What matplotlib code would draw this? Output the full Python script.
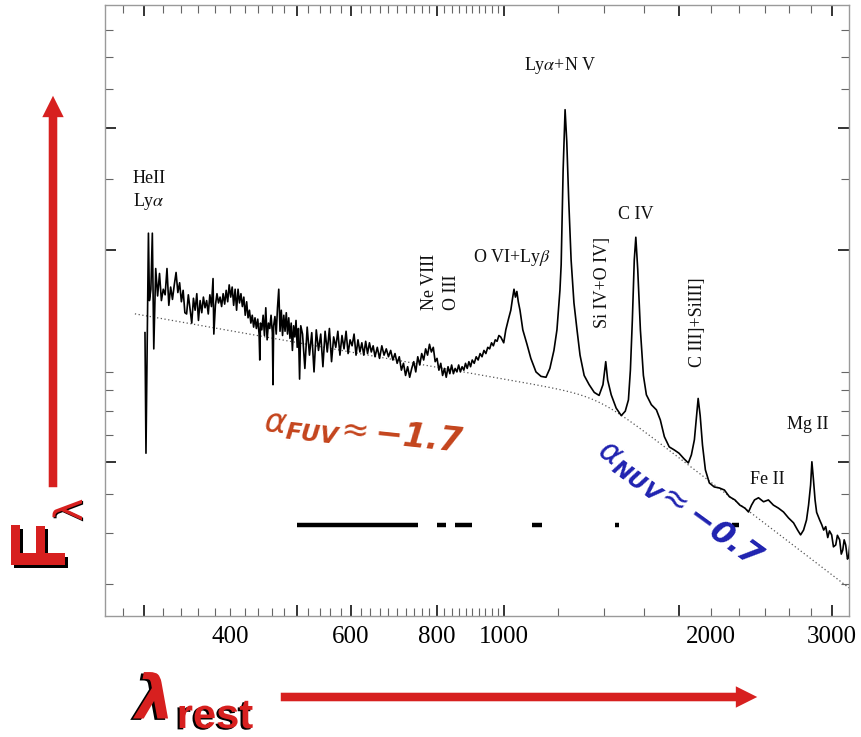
import numpy as np
import matplotlib
matplotlib.use("Agg")
import matplotlib.pyplot as plt
import matplotlib.patheffects as pe
from matplotlib.patches import FancyArrowPatch
from matplotlib.ticker import FixedLocator, FuncFormatter

# ---- composite quasar spectrum: rest wavelength [A] and F_lambda [arb. units] ----
wave_euv = [301, 302, 303.5, 304.5, 305.5, 307, 308.5, 310, 312, 314, 316, 318, 320,
            322, 324, 326, 328, 330, 332, 334, 336, 338, 340, 342, 344, 346, 348, 350,
            352, 354, 356, 358, 360, 362, 364, 366, 368, 370, 372, 374, 376, 378, 379,
            381, 383, 385, 387, 389, 391, 393, 395, 397, 399, 401]
flux_euv = [12.5, 6.3, 13.0, 22.0, 15.0, 16.0, 22.0, 11.4, 18.0, 15.4, 17.5, 15.0, 16.0,
            15.5, 18.0, 14.6, 16.2, 15.1, 16.4, 17.6, 15.7, 16.6, 14.9, 15.9, 14.0, 13.9, 15.5, 14.3,
            13.2, 15.2, 14.2, 15.6, 13.4, 15.0, 14.0, 15.3, 14.4, 15.0, 13.9, 15.5, 14.5, 17.0, 12.4,
            14.6, 15.6, 14.8, 15.3, 14.5, 15.6, 14.7, 15.9, 14.9, 16.4, 15.3]

wave_fuv1 = [403, 405, 407, 409, 411, 413, 415, 417, 419, 421, 423, 425, 427, 429, 431,
             433, 435, 437, 439, 441, 442, 443, 445, 447, 449, 451, 453, 455, 457, 459,
             461, 462, 463, 465, 467, 469, 471, 473, 475, 477, 479, 481, 483, 485, 487,
             489, 491, 493, 495, 497, 499, 501, 503, 505, 507]
flux_fuv1 = [16.2, 14.6, 16.0, 14.2, 16.0, 14.8, 15.6, 14.5, 15.3, 13.8, 14.9, 13.6, 14.2, 13.2, 13.8,
             12.9, 13.6, 12.8, 13.5, 12.4, 10.7, 13.2, 12.7, 13.8, 12.3, 14.4, 12.0, 13.2, 12.8, 13.8,
             12.5, 9.3, 13.0, 13.7, 12.4, 14.4, 16.0, 12.6, 14.2, 12.3, 13.8, 12.6, 14.0, 12.4, 13.6,
             12.1, 13.2, 11.3, 13.0, 12.2, 13.4, 11.5, 12.8, 9.6, 13.0]

wave_fuv2 = [510, 514, 518, 522, 526, 530, 534, 538, 542, 546, 550, 554, 558, 562, 566,
             570, 574, 578, 582, 586, 590, 594, 598, 602, 606, 610, 614, 618, 622, 626,
             630, 634, 638, 642, 646, 650, 655, 660, 665, 670, 675, 680, 685, 690, 695,
             700, 705, 710, 715, 720, 725, 730, 735, 740, 745, 750, 755, 760, 765, 770,
             775, 780, 785, 790, 795]
flux_fuv2 = [12.4, 10.2, 12.9, 11.0, 12.5, 10.0, 12.7, 11.3, 12.4, 10.3, 12.6, 11.2, 12.8, 10.6, 12.2,
             11.5, 12.6, 11.0, 12.3, 11.4, 12.6, 11.1, 12.0, 11.6, 12.4, 11.0, 12.0, 11.2, 11.8, 11.0,
             11.9, 11.1, 11.8, 11.2, 11.6, 10.9, 11.5, 10.8, 11.6, 11.0, 11.4, 10.9, 11.3, 10.7, 11.1,
             10.5, 10.9, 10.1, 10.5, 9.8, 10.3, 9.7, 10.2, 10.6, 10.0, 10.9, 10.4, 11.1, 10.7, 11.4,
             11.0, 11.7, 11.2, 11.5, 10.6]

wave_fuv3 = [800, 805, 810, 815, 820, 825, 830, 835, 840, 845, 850, 855, 860, 865, 870,
             875, 880, 885, 890, 895, 900, 906, 912, 918, 924, 930, 936, 942, 948, 954,
             960, 966, 972, 978, 984, 990]
flux_fuv3 = [10.8, 10.1, 10.5, 9.8, 10.2, 9.7, 10.3, 9.9, 10.4, 9.9, 10.2, 10.0, 10.4, 10.0, 10.3,
             10.1, 10.5, 10.2, 10.6, 10.3, 10.7, 10.5, 10.9, 10.7, 11.1, 10.9, 11.3, 11.1, 11.5, 11.4,
             11.8, 11.6, 12.0, 11.9, 12.3, 12.2]

wave_lines = [1000, 1007, 1016, 1024, 1030, 1035, 1040, 1045, 1050, 1056, 1066, 1081, 1095,
              1114, 1133, 1152, 1167, 1183, 1195, 1207, 1212, 1220, 1228, 1235, 1243, 1253,
              1265, 1278, 1291, 1309, 1331, 1354, 1376, 1394, 1407, 1416, 1433, 1457, 1482,
              1502, 1518, 1528, 1538, 1548, 1556, 1566, 1580, 1596, 1612, 1639, 1667, 1689,
              1712, 1740, 1769, 1798, 1829, 1855, 1874, 1893, 1906, 1917, 1930, 1945, 1964,
              1990, 2023, 2058, 2093, 2128, 2168, 2204, 2242, 2269, 2292, 2315, 2346, 2386,
              2425, 2466, 2508, 2551, 2594, 2638, 2674, 2701, 2728, 2755, 2774, 2793, 2805,
              2820, 2835, 2850, 2879, 2900, 2918, 2938, 2958, 2975, 2997, 3015, 3038, 3055,
              3078, 3095, 3110, 3125, 3141, 3160, 3173, 3185, 3194]
flux_lines = [11.8, 12.7, 13.5, 14.2, 15.2, 16.0, 15.3, 15.8, 14.9, 14.2, 12.7, 11.7, 10.8,
              10.0, 9.75, 9.7, 10.2, 11.3, 12.7, 15.9, 18.4, 31.5, 44.4, 37.0, 26.6, 18.9,
              14.8, 12.7, 11.0, 9.8, 9.3, 8.9, 8.75, 9.3, 10.6, 9.55, 8.78, 8.14, 7.8,
              8.0, 8.53, 10.1, 13.4, 18.9, 21.5, 17.9, 12.7, 9.8, 8.78, 8.3, 8.06, 7.61,
              6.92, 6.53, 6.42, 6.3, 6.1, 5.96, 6.24, 6.8, 7.72, 8.6, 7.8, 6.6, 5.73,
              5.32, 5.2, 5.17, 5.11, 4.92, 4.83, 4.69, 4.61, 4.51, 4.69, 4.83, 4.89, 4.78,
              4.83, 4.69, 4.61, 4.51, 4.36, 4.24, 4.07, 3.96, 4.07, 4.31, 4.69, 5.26, 6.0,
              5.41, 4.83, 4.5, 4.31, 4.19, 4.07, 4.15, 3.9, 4.05, 3.96, 3.7, 3.74, 3.95,
              3.85, 3.55, 3.63, 3.85, 3.74, 3.45, 3.51, 3.75, 3.63]

# broken power-law continuum (F_nu ~ nu^alpha)
alpha_fuv = -1.7
alpha_nuv = -0.7
break_wave = 1370.0
break_flux = 8.74
cont_range = (291, 3176)

# wavelength windows used for the continuum fit
windows = [(500, 750), (800, 825), (850, 900), (1100, 1135), (1450, 1470), (2150, 2200)]

# axis ticks
x_major = [300, 500, 600, 800, 1000, 1800, 3000]
x_minor = [w for w in list(range(280, 1001, 20)) + list(range(1200, 3001, 200)) if w not in x_major]
x_labeled = [400, 600, 800, 1000, 2000, 3000]
y_major = [6, 20, 40]
y_minor = [3, 4, 5, 7, 8, 9, 10, 30, 50, 60, 70]

W, H = 861, 737
fig = plt.figure(figsize=(W / 100, H / 100), dpi=100)
ax = fig.add_axes([105 / W, 1 - 616 / H, (849 - 105) / W, (616 - 5) / H])

plt.rcParams['mathtext.rm'] = 'DejaVu Sans'
plt.rcParams['mathtext.it'] = 'DejaVu Sans:italic'
plt.rcParams['mathtext.bf'] = 'DejaVu Sans:italic:bold'

wave = np.concatenate([wave_euv, wave_fuv1, wave_fuv2, wave_fuv3, wave_lines])
flux = np.concatenate([flux_euv, flux_fuv1, flux_fuv2, flux_fuv3, flux_lines])
ax.plot(wave, flux, color='black', lw=1.2, zorder=3)

lam = np.geomspace(*cont_range, 400)
r = lam / break_wave
delta = 0.05
cont = break_flux * r ** (-(2 + alpha_fuv)) * (1 + r ** (1 / delta)) ** (delta * (alpha_fuv - alpha_nuv))
ax.plot(lam, cont, color='#555555', lw=0.9, ls=(0, (1, 2)), zorder=2)

for lo, hi in windows:
    ax.plot([lo, hi], [4.2, 4.2], color='black', lw=3.2, solid_capstyle='butt', zorder=3)

ax.set_xscale('log')
ax.set_yscale('log')
ax.set_xlim(263.3, 3176)
ax.set_ylim(2.497, 80.5)

fmt = FuncFormatter(lambda v, p: f"{v:.0f}" if int(round(v)) in x_labeled else "")
ax.xaxis.set_major_locator(FixedLocator(x_major))
ax.xaxis.set_minor_locator(FixedLocator(x_minor))
ax.xaxis.set_major_formatter(fmt)
ax.xaxis.set_minor_formatter(fmt)
ax.yaxis.set_major_locator(FixedLocator(y_major))
ax.yaxis.set_minor_locator(FixedLocator(y_minor))
ax.yaxis.set_major_formatter(FuncFormatter(lambda v, p: ""))
ax.yaxis.set_minor_formatter(FuncFormatter(lambda v, p: ""))
ax.tick_params(which='both', direction='in', top=True, right=True, pad=7,
               labelsize=18, labelfontfamily='Liberation Serif')
ax.tick_params(which='major', length=8, width=1.2, color='#111111')
ax.tick_params(which='minor', length=6, width=0.8, color='#666666')
for s in ax.spines.values():
    s.set_color('#9a9a9a')
    s.set_linewidth(1.0)

serif = dict(family='Liberation Serif', fontsize=13, color='#111111', math_fontfamily='stix')
ax.text(289, 31.5, 'HeII\nLy$\\alpha$', ha='left', va='top', linespacing=1.25, **serif)
ax.text(1210, 57, 'Ly$\\alpha$+N V', ha='center', va='center', **serif)
ax.text(1028, 19.2, 'O VI+Ly$\\beta$', ha='center', va='center', **serif)
ax.text(1556, 24.4, 'C IV', ha='center', va='center', **serif)
ax.text(1394, 16.6, 'Si IV+O IV]', ha='center', va='center', rotation=90, **serif)
ax.text(1910, 13.3, 'C III]+SiIII]', ha='center', va='center', rotation=90, **serif)
ax.text(781, 14.2, 'Ne VIII', ha='center', va='bottom', rotation=90, **serif)
ax.text(840, 14.2, 'O III', ha='center', va='bottom', rotation=90, **serif)
ax.text(2768, 7.4, 'Mg II', ha='center', va='center', **serif)
ax.text(2416, 5.44, 'Fe II', ha='center', va='center', **serif)

ax.text(625, 7.11, r'$\alpha_{\mathbf{FUV}}\!\approx\mathbf{-1.7}$', color='#c4441c',
        fontsize=24, ha='center', va='center', rotation=-6, math_fontfamily='custom')
ax.text(1800, 4.72, r'$\alpha_{\mathbf{NUV}}\!\approx\mathbf{-0.7}$', color='#1f22b0',
        fontsize=23, ha='center', va='center', rotation=-36, math_fontfamily='custom')

# axis captions drawn in figure pixels
red = '#d7201f'


def shadow(dx, dy):
    return [pe.withSimplePatchShadow(offset=(dx, dy), shadow_rgbFace='black', alpha=1.0)]


def fpos(x, y):
    return x / W, 1 - y / H


fig.text(*fpos(44, 546), 'F', color=red, fontsize=56, fontweight='bold', rotation=90,
         ha='center', va='center', family='Liberation Sans', path_effects=shadow(2.5, -2.5))
fig.text(*fpos(71, 510), 'λ', color=red, fontsize=28, rotation=90,
         ha='center', va='center', family='DejaVu Sans', path_effects=shadow(0.8, -0.8))
fig.text(*fpos(155, 702), 'λ', color=red, fontsize=44, fontweight='bold', style='italic',
         ha='center', va='center', family='DejaVu Sans', path_effects=shadow(-2, -1))
fig.text(*fpos(215, 717), 'rest', color=red, fontsize=30, fontweight='bold',
         ha='center', va='center', family=['Liberation Sans Narrow', 'Liberation Sans'],
         path_effects=shadow(-1.5, -1))

for start, end in [((53, 490), (53, 93)), ((278, 697), (760, 697))]:
    arr = FancyArrowPatch(fpos(*start), fpos(*end), transform=fig.transFigure,
                          arrowstyle='simple,head_length=0.55,head_width=0.55,tail_width=0.22',
                          mutation_scale=28, color=red, lw=0)
    fig.add_artist(arr)

fig.savefig('out.png', dpi=100)
